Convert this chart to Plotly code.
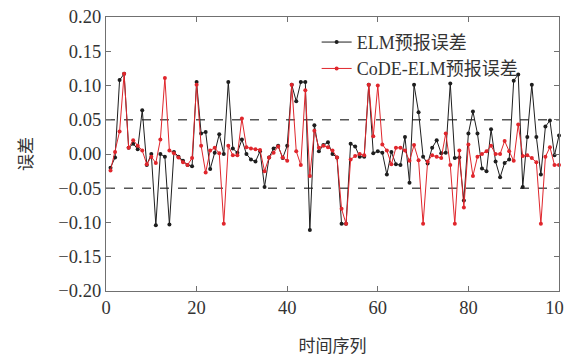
import plotly.graph_objects as go

time_index = list(range(1, 101))

elm_error = [
    -0.020, -0.005, 0.108, 0.117, 0.009, 0.015, 0.007, 0.064, -0.016, 0.000,
    -0.104, 0.000, -0.004, -0.103, 0.003, -0.004, -0.010, -0.016, -0.018, 0.105,
    0.030, 0.032, -0.022, 0.002, 0.029, 0.000, 0.105, 0.008, 0.002, 0.021,
    0.000, -0.008, -0.011, 0.004, -0.048, -0.005, 0.008, 0.012, -0.006, 0.012,
    0.101, 0.077, 0.105, 0.105, -0.111, 0.042, 0.004, 0.013, 0.017, 0.000,
    -0.005, -0.102, -0.102, 0.015, 0.011, -0.004, -0.004, 0.101, 0.001, 0.004,
    0.002, -0.030, 0.003, -0.015, -0.016, 0.025, -0.042, 0.101, 0.061, -0.004,
    -0.014, 0.009, 0.020, 0.001, 0.002, 0.103, -0.006, -0.005, -0.068, 0.030,
    0.062, 0.030, -0.021, -0.025, 0.036, -0.011, -0.034, -0.013, -0.008, 0.107,
    0.116, -0.048, 0.025, 0.101, 0.025, -0.030, 0.040, 0.049, -0.002, 0.027,
]

code_elm_error = [
    -0.024, 0.003, 0.033, 0.117, 0.009, 0.020, 0.012, 0.005, -0.015, -0.004,
    -0.013, 0.021, 0.111, 0.005, 0.001, -0.005, -0.012, -0.016, -0.006, 0.101,
    0.012, -0.027, 0.005, 0.009, 0.001, -0.102, 0.012, -0.002, -0.002, 0.052,
    0.010, 0.008, 0.007, 0.006, -0.025, -0.005, 0.002, 0.011, -0.005, -0.010,
    0.101, 0.004, -0.016, 0.093, -0.032, 0.034, 0.009, 0.012, 0.010, 0.005,
    -0.005, -0.080, -0.102, -0.008, -0.003, 0.000, -0.002, 0.101, 0.026, 0.100,
    0.014, 0.005, -0.015, 0.009, 0.009, 0.005, -0.010, 0.013, -0.009, -0.102,
    -0.011, -0.002, -0.004, -0.006, 0.030, -0.016, -0.102, 0.005, -0.078, 0.014,
    -0.032, -0.004, 0.000, 0.004, 0.012, 0.000, 0.000, 0.019, 0.004, -0.010,
    0.043, -0.003, -0.002, -0.006, -0.012, -0.102, -0.004, 0.010, -0.016, -0.016,
]

thresholds = [0.05, -0.05]
x_ticks = [0, 20, 40, 60, 80, 100]
y_ticks = [-0.20, -0.15, -0.10, -0.05, 0.00, 0.05, 0.10, 0.15, 0.20]

series_names = ["ELM预报误差", "CoDE-ELM预报误差"]

fig = go.Figure()
fig.add_trace(go.Scatter(
    x=time_index, y=elm_error, mode="lines+markers", name=series_names[0],
    line=dict(color="#1e1e1e", width=1),
    marker=dict(color="#1e1e1e", size=4, symbol="circle"),
    cliponaxis=False,
))
fig.add_trace(go.Scatter(
    x=time_index, y=code_elm_error, mode="lines+markers", name=series_names[1],
    line=dict(color="#e0262c", width=1),
    marker=dict(color="#e0262c", size=4, symbol="circle"),
    cliponaxis=False,
))

for t in thresholds:
    fig.add_hline(y=t, line=dict(color="#555555", width=1.3, dash="dash"), layer="below")

axis_common = dict(
    showgrid=False, zeroline=False, showline=True, linecolor="#707070", linewidth=1.3,
    mirror="ticks", ticks="inside", ticklen=5, tickcolor="#707070", tickwidth=1,
    tickfont=dict(family="Liberation Serif", size=18.5, color="#333333"),
    automargin=False, ticklabeloverflow="allow",
)

fig.update_layout(
    width=564, height=351,
    margin=dict(l=98, r=13, t=9, b=68),
    paper_bgcolor="white", plot_bgcolor="white",
    showlegend=True,
    legend=dict(
        x=0.465, y=0.975, xanchor="left", yanchor="top",
        bgcolor="rgba(0,0,0,0)", borderwidth=0,
        font=dict(family="Liberation Serif, Noto Sans CJK SC", size=18, color="#333333"),
        itemwidth=30, tracegroupgap=0,
    ),
    xaxis=dict(
        range=[0, 100], tickvals=x_ticks,
        title=dict(text="时间序列", font=dict(family="Noto Sans CJK SC", size=17, color="#333333"), standoff=22),
        **axis_common,
    ),
    yaxis=dict(
        range=[-0.2, 0.2], tickvals=y_ticks, tickformat=".2f",
        title=dict(text="误差", font=dict(family="Noto Sans CJK SC", size=17, color="#333333"), standoff=21),
        **axis_common,
    ),
)

fig.write_html("out.html")
